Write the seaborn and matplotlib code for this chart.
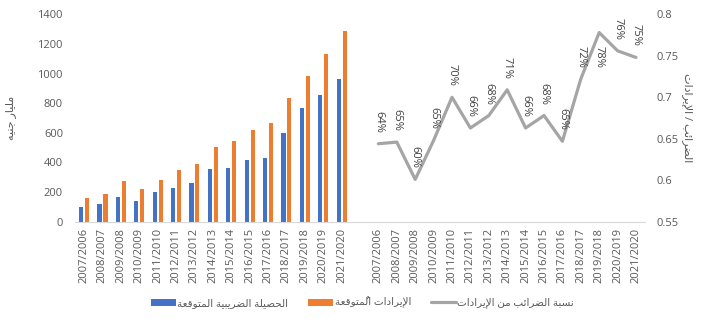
import numpy as np
import pandas as pd
import matplotlib
matplotlib.use("Agg")
import matplotlib.pyplot as plt
from matplotlib.patches import Patch
from matplotlib.lines import Line2D
from matplotlib.ticker import FuncFormatter, MultipleLocator
import seaborn as sns

# ---------------------------------------------------------------- data
years = ["2007/2006", "2008/2007", "2009/2008", "2010/2009", "2011/2010",
         "2012/2011", "2013/2012", "2014/2013", "2015/2014", "2016/2015",
         "2017/2016", "2018/2017", "2019/2018", "2020/2019", "2021/2020"]

tax_revenue = [99, 119, 167, 140, 200, 227, 261, 356, 362, 416, 430, 599, 768, 855, 963]
total_revenue = [160, 187, 275, 221, 281, 349, 389, 504, 545, 619, 666, 835, 984, 1132, 1288]
tax_share = [0.644, 0.646, 0.601, 0.648, 0.700, 0.663, 0.678, 0.709, 0.663, 0.678,
             0.647, 0.722, 0.778, 0.756, 0.748]

tax_name = "الحصيلة الضريبية المتوقعة"
revenue_name = "الإيرادات المُتوقعة"
share_name = "نسبة الضرائب من الإيرادات"
left_title = "مليار جنيه"
right_title = "الضرائب / الإيرادات"

BLUE, ORANGE, GREY = "#4472C4", "#ED7D31", "#A5A5A5"
TEXT = "#595959"

# ------------------------------------------- Arabic contextual shaping
# matplotlib lays glyphs out left to right without shaping, so the
# presentation forms are chosen here and the string is put in visual order.
DUAL = {"ب": 0xFE8F, "ت": 0xFE95, "ج": 0xFE9D, "ح": 0xFEA1, "س": 0xFEB1,
        "ص": 0xFEB9, "ض": 0xFEBD, "ع": 0xFEC9, "ق": 0xFED5, "ل": 0xFEDD,
        "م": 0xFEE1, "ن": 0xFEE5, "ه": 0xFEE9, "ي": 0xFEF1, "ئ": 0xFE89}
RIGHT = {"ا": 0xFE8D, "إ": 0xFE87, "أ": 0xFE83, "ة": 0xFE93, "د": 0xFEA9,
         "ر": 0xFEAD, "و": 0xFEED}
LAM_ALEF = {"ا": 0xFEFB, "إ": 0xFEF9, "أ": 0xFEF7}
MARKS = {"\u064E", "\u064F", "\u0650", "\u0651", "\u0652"}


def shape(text):
    clusters = []
    for ch in text:
        if ch in MARKS and clusters:
            clusters[-1][1].append(ch)
        else:
            clusters.append([ch, []])
    merged, i = [], 0
    while i < len(clusters):
        base, marks = clusters[i]
        if base == "ل" and i + 1 < len(clusters) and clusters[i + 1][0] in LAM_ALEF:
            merged.append(["LA" + clusters[i + 1][0], marks + clusters[i + 1][1]])
            i += 2
        else:
            merged.append([base, marks])
            i += 1

    def links_forward(b):
        return b in DUAL

    def links_back(b):
        return b in DUAL or b in RIGHT or b.startswith("LA")

    glyphs = []
    for k, (b, marks) in enumerate(merged):
        prev = merged[k - 1][0] if k > 0 else None
        nxt = merged[k + 1][0] if k + 1 < len(merged) else None
        back = prev is not None and links_forward(prev) and links_back(b)
        fwd = nxt is not None and links_forward(b) and links_back(nxt)
        if b.startswith("LA"):
            g = chr(LAM_ALEF[b[2]] + (1 if back else 0))
        elif b in DUAL:
            g = chr(DUAL[b] + (3 if back and fwd else 1 if back else 2 if fwd else 0))
        elif b in RIGHT:
            g = chr(RIGHT[b] + (1 if back else 0))
        else:
            g = b
        glyphs.append(g + "".join(marks))
    return "".join(reversed(glyphs))


# ---------------------------------------------------------------- style
sns.set_style("white")
plt.rcParams["font.family"] = ["Open Sans", "DejaVu Sans"]
plt.rcParams["axes.unicode_minus"] = False

fig = plt.figure(figsize=(7.16, 3.29), dpi=100)
ax = fig.add_axes([0.1045, 0.326, 0.7966, 0.6305])
ax2 = ax.twinx()

bars = pd.DataFrame({
    "year": years * 2,
    "series": [shape(tax_name)] * len(years) + [shape(revenue_name)] * len(years),
    "value": tax_revenue + total_revenue,
})

sns.barplot(data=bars, x="year", y="value", hue="series", order=years,
            hue_order=[shape(tax_name), shape(revenue_name)],
            palette=[BLUE, ORANGE], saturation=1, width=0.65, gap=0.3,
            linewidth=0, legend=False, ax=ax)

# the ratio series sits to the right of the bars, after one empty slot
line_pos = np.arange(len(years)) + len(years) + 1
sns.lineplot(x=line_pos, y=tax_share, color=GREY, linewidth=2.3, ax=ax2,
             legend=False, solid_joinstyle="round", solid_capstyle="round")

top = 0.8
for x, v in zip(line_pos, tax_share):
    if v + 0.04 > top:
        ax2.annotate(f"{v:.0%}", (x, v), xytext=(0, -10), textcoords="offset points",
                     rotation=270, ha="center", va="top", fontsize=8, color="#404040")
    else:
        ax2.annotate(f"{v:.0%}", (x, v), xytext=(0, 8), textcoords="offset points",
                     rotation=270, ha="center", va="bottom", fontsize=8, color="#404040")

# ---------------------------------------------------------------- axes
ax.set_ylim(0, 1400)
ax.yaxis.set_major_locator(MultipleLocator(200))
ax.yaxis.set_major_formatter(FuncFormatter(lambda v, p: f"{v:.0f}"))
ax2.set_ylim(0.55, 0.8)
ax2.yaxis.set_major_locator(MultipleLocator(0.05))
ax2.yaxis.set_major_formatter(FuncFormatter(lambda v, p: f"{round(v, 2):g}"))

positions = list(range(len(years))) + list(line_pos)
ax.set_xticks(positions)
ax.set_xticklabels(years + years, rotation=90)
ax.set_xlim(-0.5, len(positions) + 0.5)

ax.set_xlabel("")
ax2.set_xlabel("")
ax.set_ylabel(shape(left_title), color=TEXT, fontsize=8, va="center")
ax.yaxis.set_label_coords(-0.1136, 0.5)
ax2.set_ylabel(shape(right_title), color=TEXT, fontsize=8, rotation=270, va="center")
ax2.yaxis.set_label_coords(1.075, 0.5)

for a in (ax, ax2):
    for s in a.spines.values():
        s.set_visible(False)
    a.grid(False)
ax.spines["bottom"].set_visible(True)
ax.spines["bottom"].set_color("#D9D9D9")
ax.spines["bottom"].set_linewidth(0.8)

ax.tick_params(axis="x", length=0, pad=4.5, labelsize=8, labelcolor=TEXT)
ax.tick_params(axis="y", length=0, pad=8.5, labelsize=8, labelcolor=TEXT)
ax2.tick_params(axis="y", length=0, pad=8, labelsize=8, labelcolor=TEXT)

# ---------------------------------------------------------------- legend
handles = [Patch(facecolor=BLUE, edgecolor="none"),
           Patch(facecolor=ORANGE, edgecolor="none"),
           Line2D([0], [0], color=GREY, linewidth=2.3)]
labels = [shape(tax_name), shape(revenue_name), shape(share_name)]
fig.legend(handles, labels, loc="center", bbox_to_anchor=(0.506, 0.079), ncol=3,
           frameon=False, handlelength=2.4, handleheight=0.65, handletextpad=0.15,
           columnspacing=1.9, prop={"size": 7.5}, labelcolor=TEXT)

fig.savefig("out.png", dpi=100)
